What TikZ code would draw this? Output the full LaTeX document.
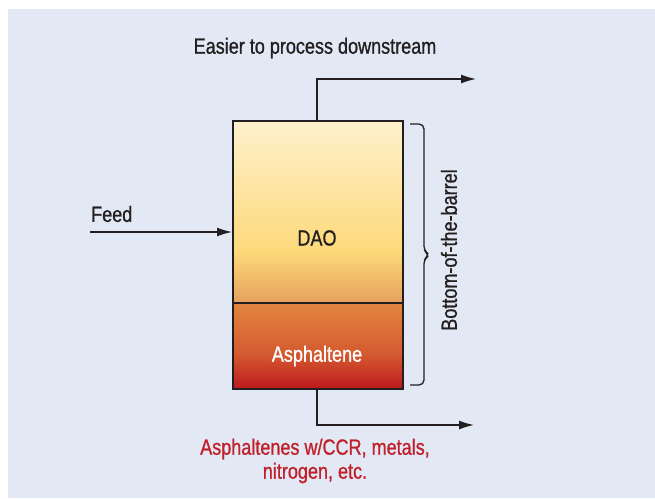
\documentclass[tikz,border=0pt]{standalone}
\usepackage{fontspec}
\setmainfont{Liberation Sans}[FakeStretch=0.82, FakeBold=0.9]
\usetikzlibrary{arrows.meta}
\definecolor{bgblue}{HTML}{E2E9F4}
\definecolor{ink}{HTML}{231F20}
\definecolor{redtxt}{HTML}{C1202B}
\definecolor{daoTop}{HTML}{FEF1CD}
\definecolor{daoMid}{HTML}{FDD97A}
\definecolor{daoBot}{HTML}{E6A05C}
\definecolor{asTop}{HTML}{E2853F}
\definecolor{asMid}{HTML}{D45A30}
\definecolor{asBot}{HTML}{BD1B1D}
\pgfdeclareverticalshading{daoshade}{100bp}{color(0bp)=(daoBot); color(25bp)=(daoBot); color(39bp)=(daoMid); color(75bp)=(daoTop); color(100bp)=(daoTop)}
\pgfdeclareverticalshading{asshade}{100bp}{color(0bp)=(asBot); color(25bp)=(asBot); color(45bp)=(asMid); color(75bp)=(asTop); color(100bp)=(asTop)}
\begin{document}
\begin{tikzpicture}[x=1pt,y=-1pt,
  lbl/.style={font=\fontsize{22}{25}\selectfont, text=ink, inner sep=0pt},
  pipe/.style={draw=ink, line width=1.4pt},
  flow/.style={pipe, -{Latex[length=15pt,width=9pt]}},
  box/.style={draw=ink, line width=1.5pt}]
\useasboundingbox (0,0) rectangle (655,498);
\fill[bgblue] (8,9) rectangle (655,498);
% vessel sections
\shade[shading=daoshade] (232,120) rectangle (402,303);
\shade[shading=asshade] (232,303) rectangle (402,388);
\node[box, minimum width=170pt, minimum height=268pt, inner sep=0pt, anchor=north west] (vessel) at (232,120) {};
\coordinate (divL) at (232,303);
\coordinate (divR) at (402,303);
\draw[draw=ink, line width=1.3pt] (divL) -- (divR);
\node[lbl] (dao) at (317,238) {DAO};
\node[lbl, text=white] (asph) at (317,356) {Asphaltene};
% top product
\coordinate (topout) at (317,120);
\coordinate (topbend) at (317,79);
\coordinate (topend) at (476,79);
\draw[flow] (topout) -- (topbend) -- (topend);
\node[lbl] (easier) at (315,48) {Easier to process downstream};
% feed
\coordinate (feedstart) at (90,232);
\coordinate (feedin) at (232,232);
\draw[flow] (feedstart) -- (feedin);
\node[lbl, anchor=west] (feed) at (91,214) {Feed};
% bottom product
\coordinate (botout) at (317,388);
\coordinate (botbend) at (317,425);
\coordinate (botend) at (474,425);
\draw[flow] (botout) -- (botbend) -- (botend);
\node[lbl, text=redtxt, align=center, font=\fontsize{22}{24}\selectfont] (asphout) at (315,461) {Asphaltenes w/CCR, metals,\\nitrogen, etc.};
% brace
\draw[draw=ink, line width=1.3pt, rounded corners=5pt]
  (410,124) -- (424,124) -- (424,251) -- (430,255) -- (424,259) -- (424,385) -- (410,385);
\node[lbl, rotate=90] (bottom) at (449,250) {Bottom-of-the-barrel};
\end{tikzpicture}
\end{document}
